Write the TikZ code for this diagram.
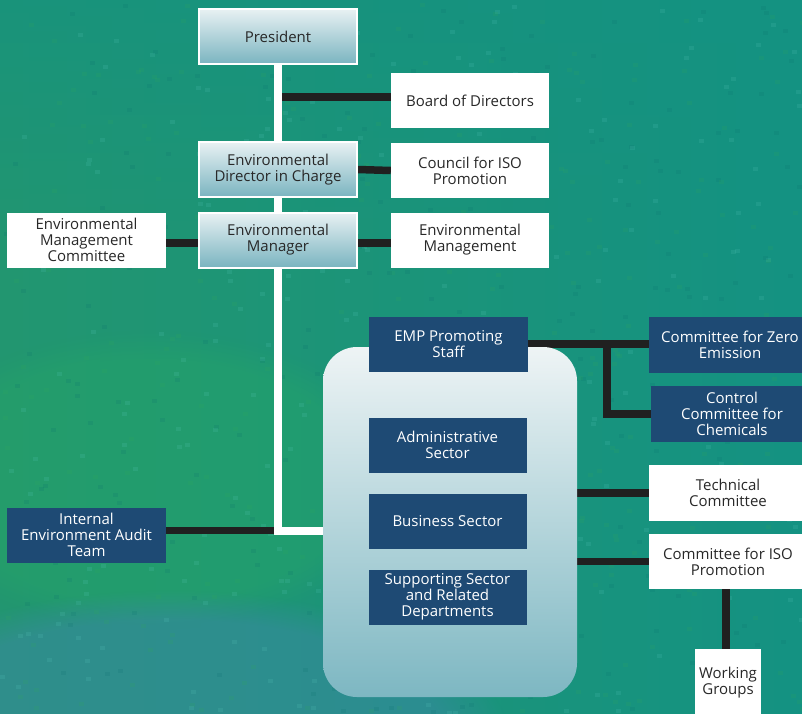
\documentclass[tikz,border=0pt]{standalone}
\usepackage{fontspec}
\setmainfont{Open Sans}
\usetikzlibrary{fadings}
\definecolor{dkblue}{RGB}{30,74,116}
\definecolor{lttop}{RGB}{232,241,243}
\definecolor{ltbot}{RGB}{122,180,192}
\definecolor{grtop}{RGB}{238,244,245}
\definecolor{grbot}{RGB}{125,183,194}
\definecolor{txt}{RGB}{40,40,40}
\definecolor{lineblk}{RGB}{32,32,32}
\definecolor{bgA}{RGB}{34,150,112}
\definecolor{bgB}{RGB}{20,146,130}
\definecolor{bgC}{RGB}{64,134,172}
\definecolor{bgG}{RGB}{40,170,100}
\definecolor{spk1}{RGB}{90,200,190}
\definecolor{spk2}{RGB}{10,110,110}
\definecolor{spk3}{RGB}{50,170,90}
\pgfdeclarelayer{back}
\pgfdeclarelayer{mid}
\pgfsetlayers{back,mid,main}
\begin{document}
\begin{tikzpicture}[x=1pt,y=-1pt,
  font=\fontsize{15}{16}\selectfont,
  box/.style={minimum width=158pt, minimum height=55pt, inner sep=0pt, align=center},
  lightbox/.style={box, top color=lttop, bottom color=ltbot, draw=white, line width=2pt, text=txt},
  whitebox/.style={box, fill=white, text=txt},
  bluebox/.style={box, fill=dkblue, text=white},
  blk/.style={line width=7.5pt, draw=lineblk},
  trunk/.style={line width=8pt, draw=white, line join=miter},
  group/.style={minimum width=254pt, minimum height=350pt, rounded corners=34pt, top color=grtop, bottom color=grbot, inner sep=0pt}]
\clip (0,0) rectangle (802,713);

% nodes
\node[group] (grp) at (450,522) {};
\node[lightbox] (pres) at (278,36.5) {President};
\node[whitebox] (board) at (470,100.5) {Board of Directors};
\node[lightbox] (edc) at (278,169.5) {Environmental\\Director in Charge};
\node[whitebox] (council) at (470,170.5) {Council for ISO\\Promotion};
\node[lightbox] (em) at (278,240) {Environmental\\Manager};
\node[whitebox] (envm) at (470,240) {Environmental\\Management};
\node[whitebox, minimum width=159pt] (emc) at (86.5,240) {Environmental\\Management\\Committee};
\node[bluebox, minimum width=159pt] (ieat) at (86.5,535) {Internal\\Environment Audit\\Team};
\node[bluebox, minimum width=159pt] (emp) at (448.5,344) {EMP Promoting\\Staff};
\node[bluebox] (adm) at (447.5,445) {Administrative\\Sector};
\node[bluebox] (bus) at (447.5,521) {Business Sector};
\node[bluebox] (sup) at (447.5,597) {Supporting Sector\\and Related\\Departments};
\node[bluebox, minimum width=162pt, minimum height=56pt] (zero) at (730,345) {Committee for Zero\\Emission};
\node[bluebox, minimum width=162pt, minimum height=56pt] (ctrl) at (732,414) {Control\\Committee for\\Chemicals};
\node[whitebox, minimum width=158pt, minimum height=56pt] (tech) at (728,493) {Technical\\Committee};
\node[whitebox, minimum width=158pt, minimum height=55pt] (iso) at (728,561.5) {Committee for ISO\\Promotion};
\node[whitebox, minimum width=66pt, minimum height=68pt] (wg) at (728,683) {Working\\Groups};

\begin{pgfonlayer}{back}
\fill[left color=bgA, right color=bgB] (0,0) rectangle (802,713);
\fill[bgB, path fading=south, opacity=0.6] (0,0) rectangle (802,260);
\fill[bgG, opacity=0.35, path fading=circle with fuzzy edge 20 percent] (150,480) ellipse (260 and 150);
\fill[bgC, opacity=0.45, path fading=circle with fuzzy edge 20 percent] (170,740) ellipse (340 and 150);
\pgfmathsetseed{7}
\foreach \i in {1,...,900} {
  \pgfmathsetmacro{\xx}{random(0,800)}
  \pgfmathsetmacro{\yy}{random(0,711)}
  \pgfmathsetmacro{\cc}{random(1,3)}
  \fill[spk\cc, opacity=0.16] (\xx,\yy) rectangle ++(5,4);
}
\end{pgfonlayer}

\begin{pgfonlayer}{mid}
\coordinate (tk) at (278,530.5);
% black connectors
\draw[blk] ([yshift=3.5pt]board.west) -- ([yshift=3.5pt]board.west -| pres.south);
\draw[blk] (edc.east) -- (council.west);
\draw[blk] ([yshift=-3pt]em.east) -- ([yshift=-3pt]envm.west);
\draw[blk] ([yshift=-3pt]em.west) -- ([yshift=-3pt]emc.east);
\draw[blk] (ieat.east |- tk) -- (tk);
\draw[blk] (emp.east) -- (zero.west |- emp.east);
\coordinate (br) at (607,344);
\draw[blk, line join=miter] (br) |- (ctrl.west);
\draw[blk] (grp.east |- tech.west) -- (tech.west);
\draw[blk] (grp.east |- iso.west) -- (iso.west);
\coordinate (wgx) at (726,0);
\draw[blk] (iso.south -| wgx) -- (wg.north -| wgx);
% trunk (white)
\draw[trunk] (pres.south) -- (edc.north);
\draw[trunk] (edc.south) -- (em.north);
\draw[trunk] (em.south) -- (tk) -- (tk -| grp.west);
\end{pgfonlayer}
\end{tikzpicture}
\end{document}
